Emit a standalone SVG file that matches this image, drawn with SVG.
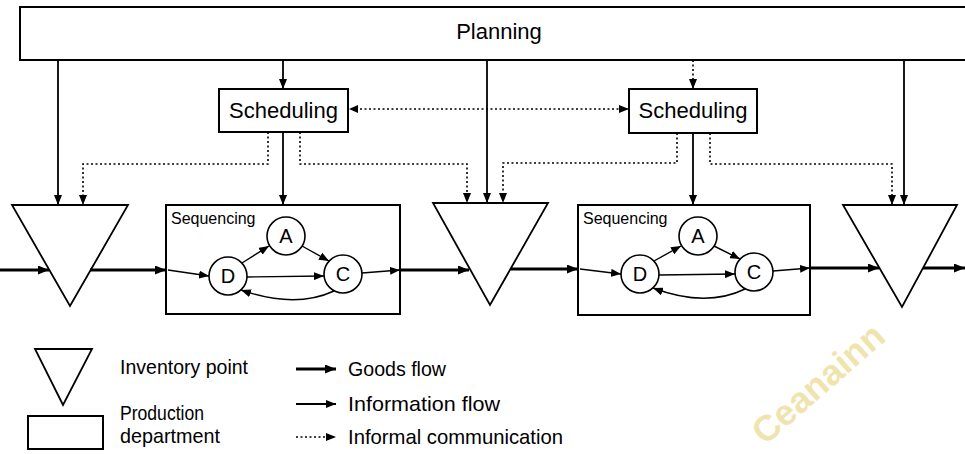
<svg xmlns="http://www.w3.org/2000/svg" width="965" height="454" viewBox="0 0 965 454">
<style>
.box{fill:#fff;stroke:#000;stroke-width:2}
.tri{fill:none;stroke:#000;stroke-width:1.8;stroke-linejoin:miter}
.circ{fill:#fff;stroke:#000;stroke-width:1.6}
.t{font-family:"Liberation Sans",Arial,sans-serif;fill:#000}
.goods{fill:none;stroke:#000;stroke-width:3}
.info{fill:none;stroke:#000;stroke-width:1.8}
.inner{fill:none;stroke:#000;stroke-width:1.4}
.infm{fill:none;stroke:#000;stroke-width:1.6;stroke-dasharray:2 2.5}
</style>
<defs>
<marker id="ah" markerUnits="userSpaceOnUse" markerWidth="11" markerHeight="9" refX="11" refY="4.5" orient="auto">
<path d="M0,0 L11,4.5 L0,9 z" fill="#000"/>
</marker>
<marker id="ahs" markerUnits="userSpaceOnUse" markerWidth="10" markerHeight="8" refX="10" refY="4" orient="auto">
<path d="M0,0 L10,4 L0,8 z" fill="#000"/>
</marker>
</defs>
<rect width="965" height="454" fill="#fff"/>

<text class="t" x="0" y="0" transform="translate(765,446) rotate(-41)" font-size="36" font-weight="bold" style="fill:#f0e4ae">Ceanainn</text>

<g id="planning">
<rect class="box" x="20" y="7" width="960" height="53"/>
<text class="t" x="499" y="39" font-size="22" text-anchor="middle">Planning</text>
</g>
<g id="scheduling1">
<rect class="box" x="219" y="89" width="129" height="43"/>
<text class="t" x="283.5" y="118" font-size="22" text-anchor="middle">Scheduling</text>
</g>
<g id="scheduling2">
<rect class="box" x="629" y="89" width="128" height="44"/>
<text class="t" x="693" y="118" font-size="22" text-anchor="middle">Scheduling</text>
</g>
<g id="inventory1"><path class="tri" d="M12,205 L128,205 L70,306 Z"/></g>
<g id="inventory2"><path class="tri" d="M433,203 L548,203 L490,305 Z"/></g>
<g id="inventory3"><path class="tri" d="M843,205 L957,205 L902,307 Z"/></g>

<g id="sequencing1">
<rect class="box" x="166" y="205" width="234" height="109"/>
<text class="t" x="171" y="224" font-size="16">Sequencing</text>
</g>
<g id="seq1-D"><circle class="circ" cx="228" cy="276" r="19"/><text class="t" x="228" y="283" font-size="20" text-anchor="middle">D</text></g>
<g id="seq1-A"><circle class="circ" cx="286" cy="236" r="19"/><text class="t" x="286" y="243" font-size="20" text-anchor="middle">A</text></g>
<g id="seq1-C"><circle class="circ" cx="343" cy="274" r="19"/><text class="t" x="343" y="281" font-size="20" text-anchor="middle">C</text></g>

<g id="sequencing2">
<rect class="box" x="578" y="205" width="232" height="110"/>
<text class="t" x="583" y="224" font-size="16">Sequencing</text>
</g>
<g id="seq2-D"><circle class="circ" cx="640" cy="274" r="19"/><text class="t" x="640" y="281" font-size="20" text-anchor="middle">D</text></g>
<g id="seq2-A"><circle class="circ" cx="698" cy="236" r="19"/><text class="t" x="698" y="243" font-size="20" text-anchor="middle">A</text></g>
<g id="seq2-C"><circle class="circ" cx="754" cy="272" r="19"/><text class="t" x="754" y="279" font-size="20" text-anchor="middle">C</text></g>

<g id="connectors">
<line class="info" x1="283" y1="60" x2="283" y2="89" marker-end="url(#ahs)"/>
<line class="infm" x1="693" y1="60" x2="693" y2="89" marker-end="url(#ahs)"/>
<line class="info" x1="58" y1="60" x2="58" y2="205" marker-end="url(#ahs)"/>
<line class="info" x1="487" y1="60" x2="487" y2="203" marker-end="url(#ahs)"/>
<line class="info" x1="904" y1="60" x2="904" y2="205" marker-end="url(#ahs)"/>
<line class="infm" x1="351" y1="109" x2="629" y2="109" marker-end="url(#ahs)"/>
<path d="M349,109 L358,105 L358,113 Z" fill="#000"/>
<line class="info" x1="283" y1="132" x2="283" y2="205" marker-end="url(#ahs)"/>
<line class="info" x1="693" y1="133" x2="693" y2="205" marker-end="url(#ahs)"/>
<path class="infm" d="M268,132 V164 H83 V205" marker-end="url(#ahs)"/>
<path class="infm" d="M300,132 V164 H467 V203" marker-end="url(#ahs)"/>
<path class="infm" d="M677,133 V163 H503 V203" marker-end="url(#ahs)"/>
<path class="infm" d="M710,133 V164 H892 V205" marker-end="url(#ahs)"/>
<line class="goods" x1="0" y1="270" x2="49" y2="270" marker-end="url(#ah)"/>
<line class="goods" x1="90" y1="270" x2="166" y2="270" marker-end="url(#ah)"/>
<line class="goods" x1="400" y1="270" x2="469" y2="270" marker-end="url(#ah)"/>
<line class="goods" x1="511" y1="269" x2="578" y2="269" marker-end="url(#ah)"/>
<line class="goods" x1="810" y1="268" x2="879" y2="268" marker-end="url(#ah)"/>
<line class="goods" x1="923" y1="268" x2="965" y2="268" marker-end="url(#ah)"/>
<line class="inner" x1="168" y1="270" x2="209" y2="276" marker-end="url(#ahs)"/>
<line class="inner" x1="242" y1="263" x2="269" y2="246" marker-end="url(#ahs)"/>
<line class="inner" x1="302" y1="246" x2="329" y2="261" marker-end="url(#ahs)"/>
<line class="inner" x1="247" y1="277" x2="324" y2="276" marker-end="url(#ahs)"/>
<path class="inner" d="M334,291 Q295,309 241,290" marker-end="url(#ahs)"/>
<line class="inner" x1="362" y1="273" x2="400" y2="270" marker-end="url(#ahs)"/>
<line class="inner" x1="580" y1="269" x2="621" y2="274" marker-end="url(#ahs)"/>
<line class="inner" x1="654" y1="261" x2="681" y2="246" marker-end="url(#ahs)"/>
<line class="inner" x1="714" y1="246" x2="740" y2="259" marker-end="url(#ahs)"/>
<line class="inner" x1="659" y1="275" x2="735" y2="274" marker-end="url(#ahs)"/>
<path class="inner" d="M745,289 Q706,308 653,288" marker-end="url(#ahs)"/>
<line class="inner" x1="773" y1="271" x2="810" y2="268" marker-end="url(#ahs)"/>
</g>

<g id="legend">
<path class="tri" d="M35,349 L92,349 L63,405 Z"/>
<rect class="box" x="28" y="416" width="75" height="33"/>
<text class="t" x="120" y="374" font-size="21" textLength="128" lengthAdjust="spacingAndGlyphs">Inventory point</text>
<text class="t" x="120" y="420" font-size="21" textLength="84" lengthAdjust="spacingAndGlyphs">Production</text>
<text class="t" x="120" y="443" font-size="21" textLength="100" lengthAdjust="spacingAndGlyphs">department</text>
<line class="goods" x1="296" y1="369" x2="336" y2="369" marker-end="url(#ah)"/>
<line class="info" x1="296" y1="404" x2="336" y2="404" marker-end="url(#ahs)"/>
<line class="infm" x1="296" y1="437" x2="336" y2="437" marker-end="url(#ahs)"/>
<text class="t" x="348" y="376" font-size="21" textLength="98" lengthAdjust="spacingAndGlyphs">Goods flow</text>
<text class="t" x="348" y="411" font-size="21" textLength="152" lengthAdjust="spacingAndGlyphs">Information flow</text>
<text class="t" x="348" y="444" font-size="21" textLength="215" lengthAdjust="spacingAndGlyphs">Informal communication</text>
</g>
</svg>
